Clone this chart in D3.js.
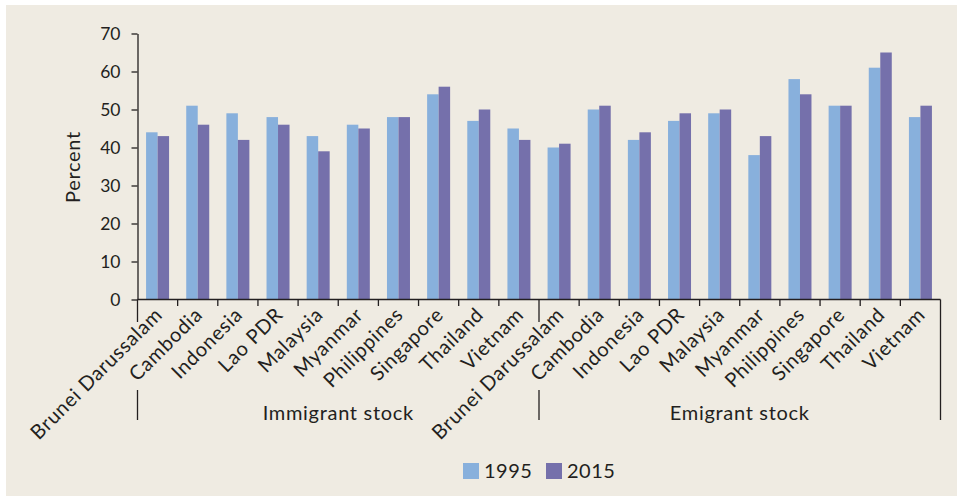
<!DOCTYPE html>
<html>
<head>
<meta charset="utf-8">
<script src="https://cdn.jsdelivr.net/npm/d3@7"></script>
<style>
  html, body { margin: 0; padding: 0; background: #ffffff; }
  svg { display: block; }
  text { font-family: "Lato", "Open Sans", sans-serif; font-weight: 400; fill: #231f20; }
</style>
</head>
<body>
<svg id="chart" width="957" height="496"></svg>
<script>
// ---- data ----
const countries = ["Brunei Darussalam", "Cambodia", "Indonesia", "Lao PDR", "Malaysia",
                   "Myanmar", "Philippines", "Singapore", "Thailand", "Vietnam"];
const groups = ["Immigrant stock", "Emigrant stock"];
const years = ["1995", "2015"];
const immigrant1995 = [44, 51, 49, 48, 43, 46, 48, 54, 47, 45];
const immigrant2015 = [43, 46, 42, 46, 39, 45, 48, 56, 50, 42];
const emigrant1995  = [40, 50, 42, 47, 49, 38, 58, 51, 61, 48];
const emigrant2015  = [41, 51, 44, 49, 50, 43, 54, 51, 65, 51];
const yTicks = [0, 10, 20, 30, 40, 50, 60, 70];

const colors = { "1995": "#88b0dc", "2015": "#7570ab" };
const ink = "#231f20";

// build rows
const seriesByGroup = {
  "Immigrant stock": { "1995": immigrant1995, "2015": immigrant2015 },
  "Emigrant stock":  { "1995": emigrant1995,  "2015": emigrant2015 }
};
const rows = [];
groups.forEach(g => countries.forEach((c, i) => {
  rows.push({ key: g + "|" + c, group: g, country: c,
              "1995": seriesByGroup[g]["1995"][i], "2015": seriesByGroup[g]["2015"][i] });
}));

const svg = d3.select("#chart");
svg.append("rect").attr("x", 6).attr("y", 5).attr("width", 951).attr("height", 491)
   .attr("fill", "#efebe2");

const plotL = 137.5, plotR = 940.5, plotT = 33.5, plotB = 299.5;
const x = d3.scaleBand().domain(rows.map(r => r.key)).range([plotL, plotR]).padding(0);
const bw = x.bandwidth();
const barW = 11.5;
const xi = d3.scaleBand().domain(years).range([(bw - 2 * barW) / 2, (bw + 2 * barW) / 2]).padding(0);
const y = d3.scaleLinear().domain([0, 70]).range([plotB, plotT]);

// bars
const gb = svg.append("g");
rows.forEach(r => {
  years.forEach(yr => {
    gb.append("rect")
      .attr("x", x(r.key) + xi(yr))
      .attr("y", y(r[yr]))
      .attr("width", xi.bandwidth())
      .attr("height", y(0) - y(r[yr]))
      .attr("fill", colors[yr]);
  });
});

// y axis
const yAxis = d3.axisLeft(y).tickValues(yTicks).tickSize(6).tickPadding(11).tickSizeOuter(0);
const ya = svg.append("g").attr("transform", `translate(${plotL},0)`).call(yAxis);
ya.select(".domain").attr("stroke", ink).attr("stroke-width", 1.3);
ya.selectAll(".tick line").attr("stroke", ink).attr("stroke-width", 1.3);
ya.selectAll(".tick text").attr("font-size", 17.5).attr("font-family", "Lato")
  .attr("font-weight", 400).attr("fill", ink);

// x axis baseline
svg.append("line").attr("x1", plotL).attr("x2", plotR).attr("y1", plotB).attr("y2", plotB)
   .attr("stroke", ink).attr("stroke-width", 1.3);

// tick marks at band edges
const edges = rows.map(r => x(r.key)).concat([plotR]);
edges.forEach((e, i) => {
  if (i % countries.length === 0) return;
  svg.append("line").attr("x1", e).attr("x2", e).attr("y1", plotB).attr("y2", plotB + 6.5)
     .attr("stroke", ink).attr("stroke-width", 1.3);
});

// group separators
[0, countries.length, rows.length].forEach((idx, k) => {
  const e = edges[idx];
  if (k < 2) {
    svg.append("line").attr("x1", e).attr("x2", e).attr("y1", plotB).attr("y2", 322)
       .attr("stroke", ink).attr("stroke-width", 1.3);
    svg.append("line").attr("x1", e).attr("x2", e).attr("y1", 390).attr("y2", 420)
       .attr("stroke", ink).attr("stroke-width", 1.3);
  } else {
    svg.append("line").attr("x1", e).attr("x2", e).attr("y1", plotB).attr("y2", 420)
       .attr("stroke", ink).attr("stroke-width", 1.3);
  }
});

// category labels
rows.forEach(r => {
  const cx = x(r.key) + bw / 2;
  svg.append("text")
    .attr("transform", `translate(${cx + 6},316) rotate(-45)`)
    .attr("text-anchor", "end")
    .attr("font-size", 20)
    .attr("letter-spacing", 0.7)
    .text(r.country);
});

// group labels
groups.forEach((gName, k) => {
  const x0 = edges[k * countries.length], x1 = edges[(k + 1) * countries.length];
  svg.append("text")
    .attr("x", (x0 + x1) / 2).attr("y", 420)
    .attr("text-anchor", "middle")
    .attr("font-size", 20)
    .attr("letter-spacing", 0.7)
    .text(gName);
});

// y title
svg.append("text")
  .attr("transform", "translate(80,167) rotate(-90)")
  .attr("text-anchor", "middle")
  .attr("font-size", 20)
  .attr("letter-spacing", 0.7)
  .text("Percent");

// legend
const legX = [463, 546];
years.forEach((yr, i) => {
  svg.append("rect").attr("x", legX[i]).attr("y", 463).attr("width", 16).attr("height", 16)
     .attr("fill", colors[yr]);
  svg.append("text").attr("x", legX[i] + 21).attr("y", 478)
     .attr("font-size", 20).attr("letter-spacing", 0.5).text(yr);
});
</script>
</body>
</html>
